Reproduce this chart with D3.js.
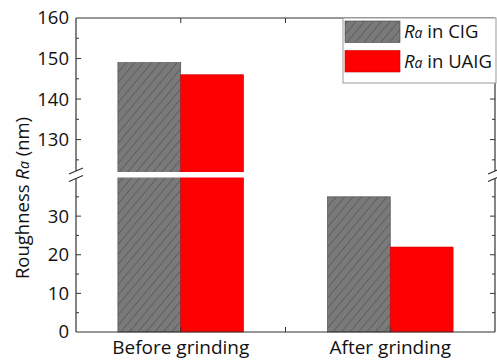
<!DOCTYPE html>
<html>
<head>
<meta charset="utf-8">
<script src="https://cdn.jsdelivr.net/npm/d3@7"></script>
<style>
  body { margin: 0; background: #fff; }
  svg text { font-family: "Open Sans", "Noto Sans", sans-serif; fill: #111; }
</style>
</head>
<body>
<div id="vis"></div>
<script>
const categories = ["Before grinding", "After grinding"];
const series = ["CIG", "UAIG"];
const valuesCIG = [149, 35];
const valuesUAIG = [146, 22];
const lowerTicks = [0, 10, 20, 30];
const upperTicks = [130, 140, 150, 160];

const width = 497;
const height = 360;
const margin = { left: 76, right: 2, top: 18, bottom: 28 };
const breakTop = 172, breakBottom = 177.5;
const gray = "#7a7a7a";
const red = "#ff0000";

const svg = d3.select("#vis").append("svg")
    .attr("width", width)
    .attr("height", height);

const defs = svg.append("defs");
const hatch = defs.append("pattern")
    .attr("id", "hatch")
    .attr("patternUnits", "userSpaceOnUse")
    .attr("width", 6.5)
    .attr("height", 6.5)
    .attr("patternTransform", "rotate(40)");
hatch.append("rect").attr("width", 6.5).attr("height", 6.5).attr("fill", gray);
hatch.append("line")
    .attr("x1", 0).attr("y1", 0).attr("x2", 0).attr("y2", 6.5)
    .attr("stroke", "#404040").attr("stroke-width", 0.9);

const xScale = d3.scaleBand()
    .domain(categories)
    .range([margin.left, width - margin.right])
    .padding(0);

const xSub = d3.scaleBand()
    .domain(series)
    .range([xScale.bandwidth() * 0.2, xScale.bandwidth() * 0.8]);

const yLow = d3.scaleLinear().domain([0, 40]).range([height - margin.bottom, breakBottom]);
const yHigh = d3.scaleLinear().domain([122, 160]).range([breakTop, margin.top]);
const yPos = v => v > 40 ? yHigh(v) : yLow(v);

const data = [];
categories.forEach((c, i) => {
    data.push({ cat: c, s: "CIG", v: valuesCIG[i] });
    data.push({ cat: c, s: "UAIG", v: valuesUAIG[i] });
});

const x0 = margin.left, x1 = width - margin.right;
const yBottom = height - margin.bottom;

// bars
svg.selectAll(".bar")
    .data(data)
    .join("rect")
        .attr("class", "bar")
        .attr("x", d => xScale(d.cat) + xSub(d.s))
        .attr("width", xSub.bandwidth())
        .attr("y", d => yPos(d.v))
        .attr("height", d => yBottom - yPos(d.v))
        .attr("fill", d => d.s === "CIG" ? "url(#hatch)" : red)
        .attr("stroke", d => d.s === "CIG" ? "#444" : "#c00")
        .attr("stroke-width", 0.6);

// white gap of the break
svg.append("rect")
    .attr("x", x0 + 1)
    .attr("width", x1 - x0 - 2)
    .attr("y", breakTop)
    .attr("height", breakBottom - breakTop)
    .attr("fill", "#fff");

// frame
const axisColor = "#333";
const frame = svg.append("g").attr("stroke", axisColor).attr("stroke-width", 1.2).attr("fill", "none");
frame.append("line").attr("x1", x0).attr("x2", x1).attr("y1", margin.top).attr("y2", margin.top);
frame.append("line").attr("x1", x0).attr("x2", x1).attr("y1", yBottom).attr("y2", yBottom);
[x0, x1].forEach(x => {
    frame.append("line").attr("x1", x).attr("x2", x).attr("y1", margin.top).attr("y2", breakTop - 1);
    frame.append("line").attr("x1", x).attr("x2", x).attr("y1", breakBottom + 1).attr("y2", yBottom);
    // break marks
    [breakTop - 1, breakBottom + 1].forEach(y => {
        frame.append("line")
            .attr("x1", x - 7).attr("y1", y + 3)
            .attr("x2", x + 7).attr("y2", y - 3);
    });
});

// y ticks, inward
const tickG = svg.append("g").attr("stroke", axisColor).attr("stroke-width", 1);
const lowMinor = d3.range(5, 40, 5);
const highMinor = d3.range(125, 160, 5);
function yTick(y, len) {
    tickG.append("line").attr("x1", x0).attr("x2", x0 + len).attr("y1", y).attr("y2", y);
    tickG.append("line").attr("x1", x1).attr("x2", x1 - len).attr("y1", y).attr("y2", y);
}
lowMinor.forEach(v => yTick(yLow(v), v % 10 === 0 ? 5 : 3));
highMinor.forEach(v => yTick(yHigh(v), v % 10 === 0 ? 5 : 3));

// x ticks at centres and between categories
const xTickPos = [xScale(categories[0]) + xScale.bandwidth() / 2, xScale(categories[1]), xScale(categories[1]) + xScale.bandwidth() / 2];
xTickPos.forEach(x => {
    tickG.append("line").attr("x1", x).attr("x2", x).attr("y1", yBottom).attr("y2", yBottom - 5);
    tickG.append("line").attr("x1", x).attr("x2", x).attr("y1", margin.top).attr("y2", margin.top + 5);
});

// tick labels
const labelG = svg.append("g").style("font-size", "18.5px").attr("text-anchor", "end");
lowerTicks.forEach(v => labelG.append("text").attr("x", x0 - 7).attr("y", yLow(v)).attr("dy", "0.35em").text(v));
upperTicks.forEach(v => labelG.append("text").attr("x", x0 - 7).attr("y", yHigh(v)).attr("dy", "0.35em").text(v));

svg.selectAll(".cat-label")
    .data(categories)
    .join("text")
        .attr("class", "cat-label")
        .attr("text-anchor", "middle")
        .style("font-size", "19px")
        .attr("x", d => xScale(d) + xScale.bandwidth() / 2)
        .attr("y", 354)
        .text(d => d);

// y axis title
const yTitle = svg.append("text")
    .attr("text-anchor", "middle")
    .style("font-size", "18.5px")
    .attr("transform", `translate(29, 198) rotate(-90)`);
yTitle.append("tspan").text("Roughness ");
yTitle.append("tspan").style("font-style", "italic").text("R");
yTitle.append("tspan").style("font-style", "italic").style("font-size", "14px").text("a");
yTitle.append("tspan").text(" (nm)");

// legend
const legend = svg.append("g");
legend.append("rect")
    .attr("x", 343).attr("y", margin.top)
    .attr("width", 153).attr("height", 65)
    .attr("fill", "#fff").attr("stroke", "#999").attr("stroke-width", 1);
series.forEach((s, i) => {
    const y = 21 + i * 29.5;
    legend.append("rect")
        .attr("x", 345).attr("y", y)
        .attr("width", 55).attr("height", 21.5)
        .attr("fill", s === "CIG" ? "url(#hatch)" : red)
        .attr("stroke", s === "CIG" ? "#444" : "#c00")
        .attr("stroke-width", 0.6);
    const t = legend.append("text")
        .attr("x", 404).attr("y", y + 17)
        .style("font-size", "18.5px");
    t.append("tspan").style("font-style", "italic").text("R");
    t.append("tspan").style("font-style", "italic").style("font-size", "14px").text("a");
    t.append("tspan").text(` in ${s}`);
});
</script>
</body>
</html>
